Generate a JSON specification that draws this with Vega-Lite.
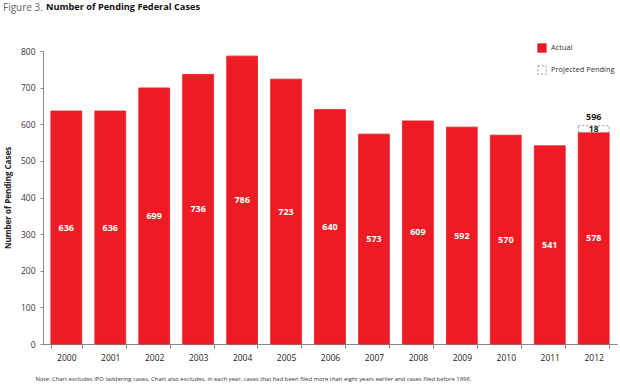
{
  "$schema": "https://vega.github.io/schema/vega-lite/v6.json",
  "width": 574,
  "height": 293,
  "autosize": {"type": "none"},
  "padding": {"left": 43, "top": 51, "right": 3, "bottom": 44},
  "config": {
    "view": {"stroke": null},
    "font": "Open Sans",
    "axisY": {
      "grid": false,
      "domainColor": "#888888",
      "tickColor": "#888888",
      "tickSize": 3,
      "labelColor": "#333333",
      "labelFontSize": 8.5,
      "labelPadding": 5,
      "titleFontSize": 8,
      "titleFontWeight": "bold",
      "titleColor": "#222222",
      "titlePadding": 8
    }
  },
  "title": {
    "text": "Figure 3.",
    "subtitle": "\u200b\u00a0\u00a0\u00a0\u00a0\u00a0\u00a0\u00a0\u00a0\u00a0\u00a0\u00a0\u00a0\u00a0\u00a0\u00a0\u00a0\u00a0\u00a0Number of Pending Federal Cases",
    "anchor": "start",
    "frame": "group",
    "dx": -40,
    "offset": 30,
    "fontSize": 10,
    "fontWeight": "normal",
    "color": "#666666",
    "subtitleFontSize": 9.2,
    "subtitleFontWeight": "bold",
    "subtitleColor": "#111111",
    "subtitlePadding": -9.6
  },
  "data": {
    "values": [
      {"year": "2000", "type": "Actual", "value": 636, "order": 1},
      {"year": "2001", "type": "Actual", "value": 636, "order": 1},
      {"year": "2002", "type": "Actual", "value": 699, "order": 1},
      {"year": "2003", "type": "Actual", "value": 736, "order": 1},
      {"year": "2004", "type": "Actual", "value": 786, "order": 1},
      {"year": "2005", "type": "Actual", "value": 723, "order": 1},
      {"year": "2006", "type": "Actual", "value": 640, "order": 1},
      {"year": "2007", "type": "Actual", "value": 573, "order": 1},
      {"year": "2008", "type": "Actual", "value": 609, "order": 1},
      {"year": "2009", "type": "Actual", "value": 592, "order": 1},
      {"year": "2010", "type": "Actual", "value": 570, "order": 1},
      {"year": "2011", "type": "Actual", "value": 541, "order": 1},
      {"year": "2012", "type": "Actual", "value": 578, "order": 1},
      {"year": "2012", "type": "Projected Pending", "value": 18, "order": 2}
    ]
  },
  "transform": [
    {"joinaggregate": [{"op": "sum", "field": "value", "as": "total"}], "groupby": ["year"]},
    {"stack": "value", "groupby": ["year"], "sort": [{"field": "order", "order": "ascending"}], "as": ["v0", "v1"]},
    {"calculate": "(datum.v0 + datum.v1) / 2", "as": "mid"}
  ],
  "encoding": {
    "x": {
      "field": "year",
      "type": "nominal",
      "scale": {"paddingInner": 0.3, "paddingOuter": 0.18},
      "axis": {
        "title": "Note:  Chart excludes IPO laddering cases. Chart also excludes, in each year, cases that had been filed more than eight years earlier and cases filed before 1996.",
        "labelAngle": 0,
        "tickBand": "extent",
        "domainColor": "#888888",
        "tickColor": "#888888",
        "tickSize": 4,
        "labelColor": "#222222",
        "labelFontSize": 8.5,
        "labelPadding": 5,
        "titleAnchor": "start",
        "titleAlign": "left",
        "titleX": -8,
        "titleY": 36,
        "titleBaseline": "alphabetic",
        "titleFont": "Liberation Sans Narrow, Open Sans",
        "titleFontSize": 5.9,
        "titleFontWeight": "normal",
        "titleColor": "#333333"
      }
    }
  },
  "layer": [
    {
      "mark": {"type": "bar", "strokeWidth": 1},
      "encoding": {
        "y": {
          "field": "v1",
          "type": "quantitative",
          "scale": {"domain": [0, 800]},
          "axis": {"title": "Number of Pending Cases", "values": [0, 100, 200, 300, 400, 500, 600, 700, 800]}
        },
        "y2": {"field": "v0"},
        "fill": {
          "field": "type",
          "type": "nominal",
          "scale": {"domain": ["Actual", "Projected Pending"], "range": ["#ED1C24", "#ffffff"]},
          "legend": {"title": null}
        },
        "stroke": {
          "field": "type",
          "type": "nominal",
          "scale": {"domain": ["Actual", "Projected Pending"], "range": ["#ED1C24", "#9a9a9a"]},
          "legend": {"title": null}
        },
        "strokeDash": {
          "field": "type",
          "type": "nominal",
          "scale": {"domain": ["Actual", "Projected Pending"], "range": [[1, 0], [2, 2]]},
          "legend": {
            "title": null,
            "orient": "none",
            "legendX": 494,
            "legendY": -8,
            "symbolType": "square",
            "symbolSize": 70,
            "symbolStrokeWidth": 1,
            "labelFontSize": 7.5,
            "labelColor": "#333333",
            "rowPadding": 8
          }
        }
      }
    },
    {
      "transform": [{"filter": "datum.type === 'Actual'"}],
      "mark": {"type": "text", "color": "#ffffff", "fontWeight": "bold", "fontSize": 9, "baseline": "middle"},
      "encoding": {
        "y": {"field": "mid", "type": "quantitative", "axis": {"title": "Number of Pending Cases", "values": [0, 100, 200, 300, 400, 500, 600, 700, 800]}},
        "text": {"field": "value", "type": "quantitative"}
      }
    },
    {
      "transform": [{"filter": "datum.type === 'Projected Pending'"}],
      "mark": {"type": "text", "color": "#222222", "fontWeight": "bold", "fontSize": 8.5, "baseline": "middle"},
      "encoding": {
        "y": {"field": "mid", "type": "quantitative", "axis": {"title": "Number of Pending Cases", "values": [0, 100, 200, 300, 400, 500, 600, 700, 800]}},
        "text": {"field": "value", "type": "quantitative"}
      }
    },
    {
      "transform": [{"filter": "datum.type === 'Projected Pending'"}],
      "mark": {"type": "text", "color": "#222222", "fontWeight": "bold", "fontSize": 9, "baseline": "bottom", "dy": -4},
      "encoding": {
        "y": {"field": "v1", "type": "quantitative", "axis": {"title": "Number of Pending Cases", "values": [0, 100, 200, 300, 400, 500, 600, 700, 800]}},
        "text": {"field": "total", "type": "quantitative"}
      }
    }
  ]
}
